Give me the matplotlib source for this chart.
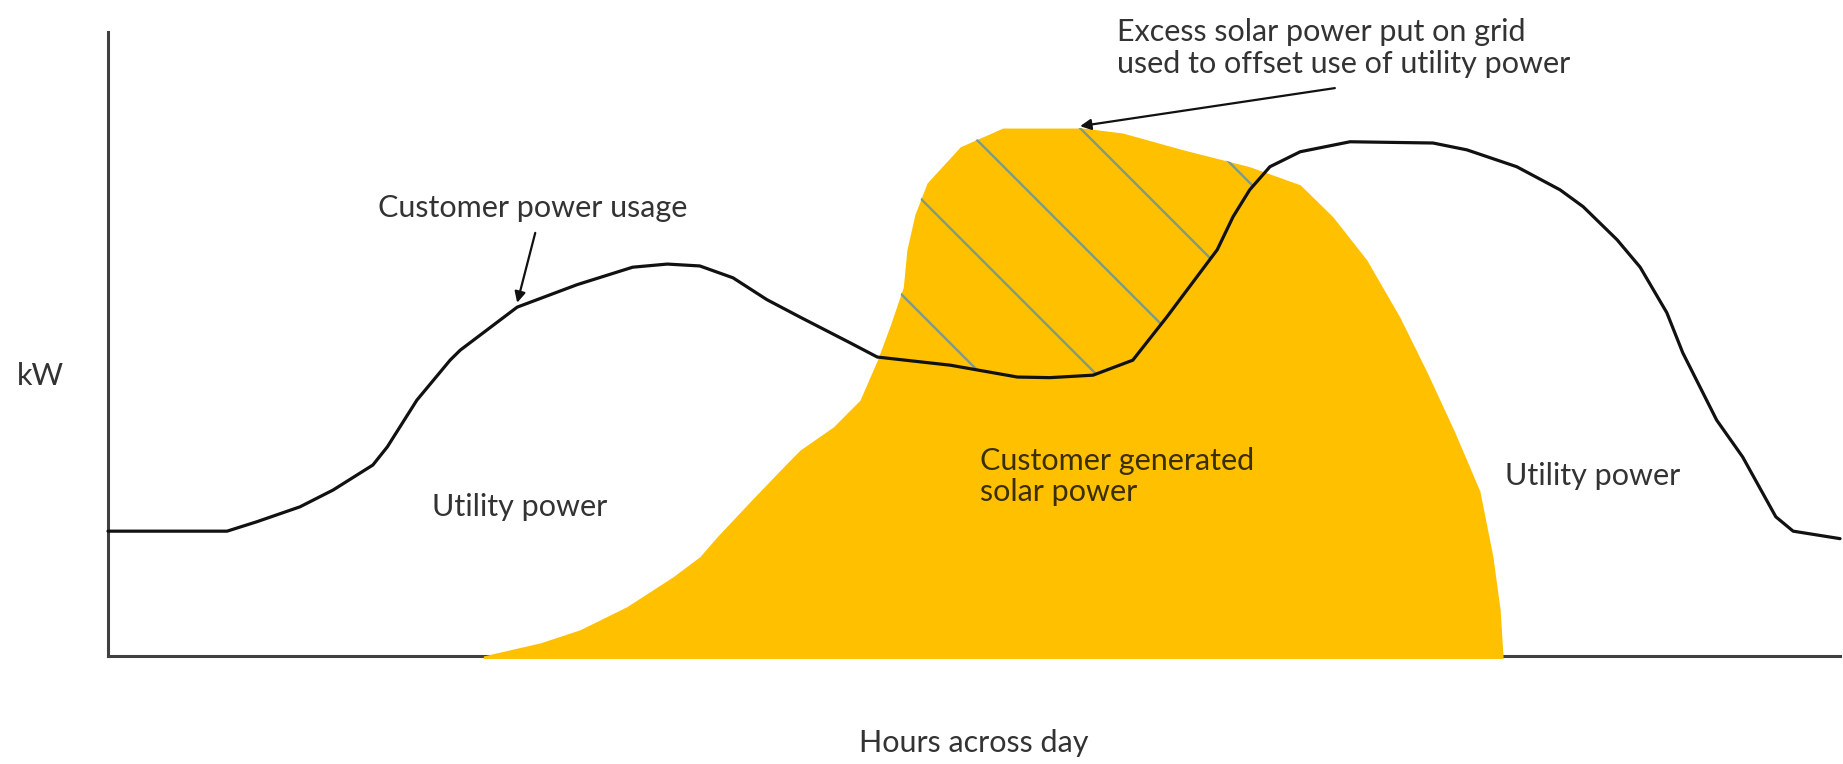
import matplotlib.pyplot as plt
import numpy as np

plt.rcParams['font.family'] = ['Lato', 'DejaVu Sans']

# Customer power usage (hours, kW in arbitrary units 0-10)
hours_usage = [0.0, 1.65, 2.06, 2.66, 3.12, 3.67, 3.87, 4.28, 4.74, 4.88, 5.67, 6.50,
               7.27, 7.75, 8.20, 8.66, 9.13, 9.59, 10.28, 10.66, 11.67, 12.60, 13.05,
               13.65, 14.20, 14.67, 15.13, 15.37, 15.59, 15.82, 16.10, 16.52, 17.21,
               18.36, 18.83, 19.52, 20.12, 20.44, 20.91, 21.23, 21.60, 21.82, 22.29,
               22.65, 23.11, 23.35, 24.0]
kw_usage = [2.00, 2.00, 2.15, 2.39, 2.66, 3.06, 3.35, 4.10, 4.74, 4.90, 5.59, 5.95,
            6.23, 6.28, 6.25, 6.06, 5.71, 5.43, 5.02, 4.79, 4.66, 4.47, 4.46,
            4.50, 4.74, 5.43, 6.14, 6.51, 7.04, 7.47, 7.84, 8.08, 8.24,
            8.22, 8.11, 7.84, 7.47, 7.20, 6.67, 6.23, 5.50, 4.86, 3.78,
            3.19, 2.23, 2.00, 1.88]

# Customer generated solar power
hours_solar = [5.20, 5.99, 6.54, 7.19, 7.83, 8.20, 8.44, 8.92, 9.41, 9.59, 10.05, 10.42,
               10.66, 10.84, 11.02, 11.07, 11.18, 11.35, 11.81, 12.40, 13.51, 14.06,
               14.90, 15.82, 16.52, 16.97, 17.44, 17.90, 18.28, 18.66, 19.01, 19.19,
               19.29, 19.33]
kw_solar = [0.0, 0.21, 0.42, 0.79, 1.27, 1.59, 1.91, 2.50, 3.09, 3.30, 3.67, 4.10,
            4.74, 5.30, 5.91, 6.51, 7.07, 7.58, 8.16, 8.46, 8.46, 8.38,
            8.11, 7.84, 7.55, 7.04, 6.35, 5.43, 4.54, 3.59, 2.64, 1.59,
            0.74, 0.0]

gold = '#FFC000'
text_col = '#333333'

fig = plt.figure(figsize=(18.43, 7.64), dpi=100)
ax = fig.add_axes([0.0586, 0.1414, 0.9398, 0.8168])
ax.set_xlim(0, 24)
ax.set_ylim(0, 10)

# solar area (drawn over the bottom axis line)
ax.fill_between(hours_solar, kw_solar, -0.04, color=gold, lw=0, zorder=1, clip_on=False)

# excess solar region: hatched with sparse diagonal lines
grid = np.union1d(hours_usage, hours_solar)
u = np.interp(grid, hours_usage, kw_usage)
s = np.interp(grid, hours_solar, kw_solar, left=0, right=0)
excess = ax.fill_between(grid, u, s, where=s > u, interpolate=True,
                         facecolor='none', lw=0)
paths = excess.get_paths()
clip = max(paths, key=lambda p: len(p.vertices))
for k in range(-5, 6):
    x0 = 12.04 + k * 1.593
    ln, = ax.plot([x0 - 5, x0 + 5], [8.27 + 5 * 1.1566, 8.27 - 5 * 1.1566],
                  color='#7f9a86', lw=1.7, zorder=2)
    ln.set_clip_path(clip, ax.transData)

# usage curve
ax.plot(hours_usage, kw_usage, color='#111111', lw=2.3, zorder=3,
        solid_capstyle='round', solid_joinstyle='round', clip_on=False)

for side in ['top', 'right']:
    ax.spines[side].set_visible(False)
for side in ['left', 'bottom']:
    ax.spines[side].set_color('#404040')
    ax.spines[side].set_linewidth(2.2)
    ax.spines[side].set_zorder(0.5)
ax.set_xticks([])
ax.set_yticks([])

fs = 22
fig.text(0.0217, 0.508, 'kW', fontsize=fs, color=text_col, ha='center', va='center')
fig.text(0.5285, 0.0275, 'Hours across day', fontsize=fs, color=text_col,
         ha='center', va='center')

ax.text(3.74, 7.18, 'Customer power usage', fontsize=fs, color=text_col,
        ha='left', va='center')
ax.annotate('', xy=(5.67, 5.66), xytext=(5.92, 6.78),
            arrowprops=dict(arrowstyle='-|>', color='#111111', lw=1.6,
                            mutation_scale=16, shrinkA=0, shrinkB=0))

ax.text(4.49, 2.39, 'Utility power', fontsize=fs, color=text_col, ha='left', va='center')
ax.text(19.36, 2.88, 'Utility power', fontsize=fs, color=text_col, ha='left', va='center')
ax.text(12.08, 2.88, 'Customer generated\nsolar power', fontsize=fs, color='#3b2f00',
        ha='left', va='center', linespacing=1.15)

ax.text(13.98, 9.74, 'Excess solar power put on grid\nused to offset use of utility power',
        fontsize=fs, color=text_col, ha='left', va='center', linespacing=1.15)
ax.annotate('', xy=(13.47, 8.49), xytext=(17.0, 9.10),
            arrowprops=dict(arrowstyle='-|>', color='#111111', lw=1.6,
                            mutation_scale=16, shrinkA=0, shrinkB=0))

fig.savefig('out.png', dpi=100, facecolor='white')
